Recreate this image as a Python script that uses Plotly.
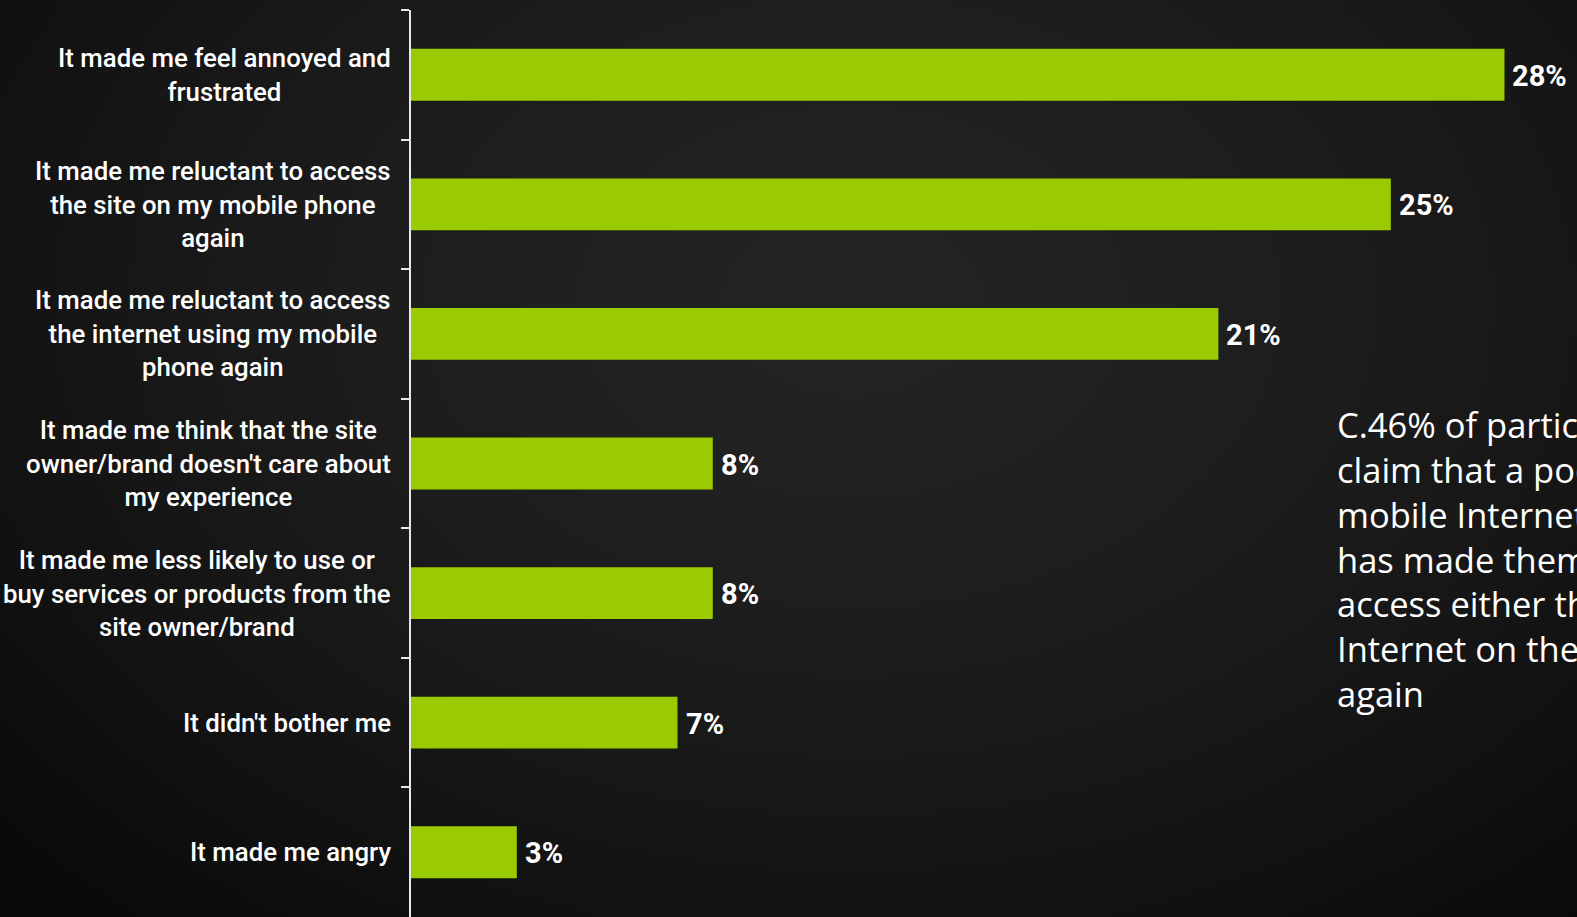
import base64, struct, zlib
import numpy as np
import plotly.graph_objects as go

# ---- data ----
categories = [
    "It made me feel annoyed and<br>frustrated",
    "It made me reluctant to access<br>the site on my mobile phone<br>again",
    "It made me reluctant to access<br>the internet using my mobile<br>phone again",
    "It made me think that the site<br>owner/brand doesn't care about<br>my experience",
    "It made me less likely to use or<br>buy services or products from the<br>site owner/brand",
    "It didn't bother me",
    "It made me angry",
]
values = [27.9, 25.0, 20.6, 7.7, 7.7, 6.8, 2.7]
value_labels = ["28%", "25%", "21%", "8%", "8%", "7%", "3%"]
note_text = ("C.46% of participants<br>claim that a poor<br>mobile Internet experience<br>"
             "has made them reluctant to<br>access either the site or the<br>Internet on their phone<br>again")

W, H = 1577, 917
ML, MT = 411, 10
PW, PH = W - ML, H - MT

# ---- background radial gradient as PNG ----
def make_png(arr):
    h, w = arr.shape
    raw = b"".join(b"\x00" + arr[i].tobytes() for i in range(h))
    def chunk(t, d):
        c = struct.pack(">I", len(d)) + t + d
        return c + struct.pack(">I", zlib.crc32(t + d) & 0xffffffff)
    return (b"\x89PNG\r\n\x1a\n" + chunk(b"IHDR", struct.pack(">IIBBBBB", w, h, 8, 0, 0, 0, 0))
            + chunk(b"IDAT", zlib.compress(raw, 9)) + chunk(b"IEND", b""))

gw, gh = W // 4, H // 4
yy, xx = np.mgrid[0:gh, 0:gw]
px = xx * W / gw
py = yy * H / gh
d = np.sqrt(((px - 850) / 1150) ** 2 + ((py - 300) / 820) ** 2)
v = 36 - 26 * np.clip(d, 0, 1) ** 1.5
img = np.clip(v, 0, 255).astype(np.uint8)
bg_src = "data:image/png;base64," + base64.b64encode(make_png(img)).decode()

fig = go.Figure()
fig.add_trace(go.Bar(
    x=values, y=categories, orientation="h", width=0.4,
    marker=dict(color="#9ACA00", line=dict(width=0)),
    hoverinfo="skip",
))

for c in categories:
    fig.add_annotation(
        xref="paper", x=0, xshift=-18, xanchor="right",
        yref="y", y=c, yanchor="middle",
        text=c, align="center", showarrow=False,
        font=dict(family="Roboto", size=25.8, color="white", weight=500),
    )

for c, val, lab in zip(categories, values, value_labels):
    fig.add_annotation(
        xref="x", x=val, xshift=6, xanchor="left",
        yref="y", y=c, yanchor="middle", yshift=-1,
        text=lab, showarrow=False,
        font=dict(family="Roboto", size=29, color="white", weight="bold"),
    )

fig.add_annotation(
    xref="paper", x=(1335 - ML) / PW, xanchor="left",
    yref="paper", y=(H - 559) / PH, yanchor="middle",
    text=note_text, align="left", showarrow=False,
    font=dict(family="Open Sans", size=34.5, color="white", weight=400),
)

fig.update_layout(
    width=W, height=H,
    margin=dict(l=ML, r=0, t=MT, b=0, pad=0),
    paper_bgcolor="#141414", plot_bgcolor="rgba(0,0,0,0)",
    showlegend=False,
    images=[dict(source=bg_src, xref="paper", yref="paper",
                 x=-ML / PW, y=1 + MT / PH, sizex=W / PW, sizey=H / PH,
                 sizing="stretch", xanchor="left", yanchor="top", layer="below")],
    xaxis=dict(range=[0, 29.75], visible=False, showgrid=False, zeroline=False, fixedrange=True),
    yaxis=dict(type="category", categoryorder="array", categoryarray=categories,
               range=[6.5, -0.5], showticklabels=False, showgrid=False, zeroline=False,
               showline=True, linecolor="#e8e8e8", linewidth=2,
               ticks="outside", tickson="boundaries", ticklen=8, tickwidth=2, tickcolor="#e8e8e8",
               fixedrange=True),
)

fig.write_html("out.html")
